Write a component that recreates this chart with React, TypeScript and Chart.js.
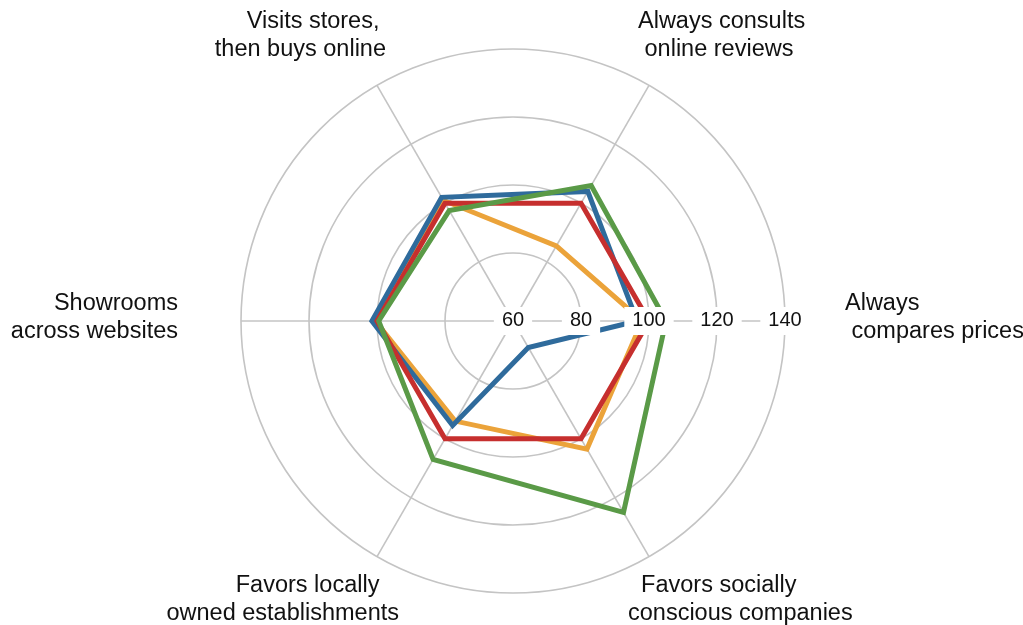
import React, { useEffect, useRef } from "react";
import { Chart, registerables } from "chart.js";

Chart.register(...registerables);

// Axes, clockwise from the 3 o'clock spoke. Spaces keep the wrapped lines staggered.
const axisLabels: string[][] = [
  ["Always", " compares prices"],
  ["  Favors socially", "conscious companies"],
  ["Favors locally   ", "owned establishments"],
  ["Showrooms", "across websites"],
  ["Visits stores, ", "then buys online"],
  ["Always consults", " online reviews"],
];

const seriesBlue = [96.5, 69, 95.5, 101.5, 102, 104];
const seriesOrange = [98, 103.5, 94, 100.5, 101, 85.5];
const seriesRed = [100, 100, 100, 100, 100, 100];
const seriesGreen = [105, 125, 107, 99.5, 97.5, 106];

const scaleMin = 60;
const scaleMax = 140;
const scaleStep = 20;
const tickLabels = ["60", "80", "100", "120", "140"];

const FONT = '"Liberation Sans", Arial, Helvetica, sans-serif';
const LINE_H = 28;
const GRID = "#c4c4c4";

// Value labels along the right-hand spoke, drawn over the series on a white box.
const tickLabelPlugin = {
  id: "tickLabelsOnSpoke",
  afterDatasetsDraw(chart: any) {
    const scale = chart.scales.r;
    const ctx = chart.ctx as CanvasRenderingContext2D;
    ctx.save();
    ctx.font = `20px ${FONT}`;
    ctx.textAlign = "center";
    ctx.textBaseline = "middle";
    scale.ticks.forEach((tick: any, i: number) => {
      const p = scale.getPointPositionForValue(0, tick.value);
      const text = tickLabels[i] ?? String(tick.value);
      const w = ctx.measureText(text).width;
      ctx.fillStyle = "#ffffff";
      ctx.fillRect(p.x - w / 2 - 8, p.y - 14, w + 16, 28);
      ctx.fillStyle = "#111111";
      ctx.fillText(text, p.x, p.y - 1);
    });
    ctx.restore();
  },
};

// Category names placed outside the spoke ends.
const axisLabelPlugin = {
  id: "axisLabelsOutside",
  afterDraw(chart: any) {
    const scale = chart.scales.r;
    const ctx = chart.ctx as CanvasRenderingContext2D;
    ctx.save();
    ctx.font = `23.5px ${FONT}`;
    ctx.fillStyle = "#111111";
    ctx.textBaseline = "middle";
    axisLabels.forEach((lines, i) => {
      const e = scale.getPointPosition(i, scale.drawingArea);
      const dx = e.x - scale.xCenter;
      const dy = e.y - scale.yCenter;
      const right = dx > 0;
      let x: number;
      let y0: number;
      if (Math.abs(dy) < 1) {
        x = e.x + (right ? 60 : -63);
        y0 = e.y - 17;
      } else if (dy < 0) {
        x = e.x + (right ? -11 : 9);
        y0 = e.y - 36 - LINE_H * (lines.length - 1);
      } else {
        x = e.x + (right ? -21 : 22);
        y0 = e.y + 29;
      }
      ctx.textAlign = right ? "left" : "right";
      lines.forEach((t, k) => ctx.fillText(t, x, y0 + k * LINE_H));
    });
    ctx.restore();
  },
};

export default function App() {
  const canvasRef = useRef<HTMLCanvasElement | null>(null);

  useEffect(() => {
    if (!canvasRef.current) return;
    const line = (data: number[], color: string) => ({
      data,
      borderColor: color,
      backgroundColor: color,
      borderWidth: 5,
      borderJoinStyle: "miter" as const,
      fill: false,
      pointRadius: 0,
      pointHoverRadius: 0,
      tension: 0,
    });
    const chart = new Chart(canvasRef.current, {
      type: "radar",
      data: {
        labels: axisLabels.map((l) => l.map((s) => s.trim()).join(" ")),
        // first dataset is painted last (on top)
        datasets: [
          line(seriesGreen, "#5a9a47"),
          line(seriesRed, "#c62f2e"),
          line(seriesBlue, "#2f6b9c"),
          line(seriesOrange, "#eba33a"),
        ],
      },
      options: {
        responsive: false,
        animation: false,
        layout: { padding: { top: 49, bottom: 32, left: 3, right: 0 } },
        plugins: { legend: { display: false }, tooltip: { enabled: false } },
        scales: {
          r: {
            min: scaleMin,
            max: scaleMax,
            startAngle: 90,
            ticks: { stepSize: scaleStep, display: false },
            grid: { circular: true, color: GRID, lineWidth: 1.6 },
            angleLines: { color: GRID, lineWidth: 1.6 },
            pointLabels: { display: false },
          },
        },
      },
      plugins: [tickLabelPlugin, axisLabelPlugin],
    });
    return () => chart.destroy();
  }, []);

  return (
    <div style={{ position: "absolute", left: 0, top: 0, width: 1023, height: 625, background: "#fff" }}>
      <canvas ref={canvasRef} width={1023} height={625} style={{ display: "block" }} />
    </div>
  );
}
